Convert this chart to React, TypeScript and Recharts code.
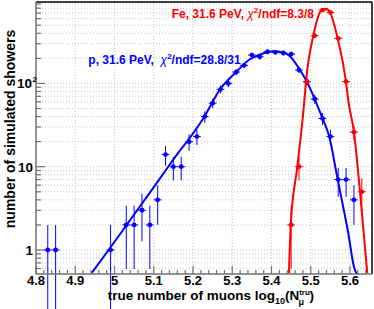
import React from "react";
import {
  ComposedChart, XAxis, YAxis, Scatter, Line, ErrorBar, ReferenceLine,
} from "recharts";

// proton histogram (bin centres, counts, poisson errors)
const pX = [4.83, 4.85, 4.99, 5.03, 5.05, 5.07, 5.09, 5.11, 5.13, 5.15, 5.17, 5.19, 5.21, 5.23, 5.25, 5.27, 5.29,
  5.31, 5.33, 5.35, 5.37, 5.39, 5.41, 5.43, 5.45, 5.47, 5.49, 5.51, 5.53, 5.55, 5.57, 5.59, 5.61];
const pN = [1, 1, 1, 2, 2, 3, 2, 4, 14, 10, 10, 20, 23, 40, 58, 85, 100,
  137, 165, 219, 209, 240, 236, 232, 225, 145, 105, 65, 38, 23, 7, 7, 4];
const pErrLo = [0.99, 0.99, 0.99, 1.41, 1.41, 1.73, 1.41, 2, 3.74, 3.16, 3.16, 4.47, 4.8, 6.32, 7.6, 9.2, 10,
  11.7, 12.8, 14.8, 14.5, 15.5, 15.4, 15.2, 15, 12, 10.2, 8.1, 6.2, 4.8, 2.65, 2.65, 2];
const pErrHi = [1, 1, 1, 1.41, 1.41, 1.73, 1.41, 2, 3.74, 3.16, 3.16, 4.47, 4.8, 6.32, 7.6, 9.2, 10,
  11.7, 12.8, 14.8, 14.5, 15.5, 15.4, 15.2, 15, 12, 10.2, 8.1, 6.2, 4.8, 2.65, 2.65, 2];

// iron histogram
const feX = [5.45, 5.47, 5.49, 5.51, 5.53, 5.55, 5.57, 5.59, 5.61, 5.63];
const feN = [2, 10, 105, 374, 760, 713, 348, 105, 26, 5];
const feErr = [1.41, 3.16, 10.2, 19.3, 27.6, 26.7, 18.7, 10.2, 5.1, 2.24];

// fitted curves
const pFitX = [4.942, 4.985, 5.031, 5.08, 5.12, 5.158, 5.188, 5.226, 5.269, 5.31, 5.345, 5.371, 5.405, 5.43,
  5.447, 5.4725, 5.49, 5.515, 5.53, 5.547, 5.5675, 5.579, 5.5955, 5.61, 5.618];
const pFitY = [0.53, 1, 2, 4.2, 7.7, 13.8, 21, 38, 85, 137, 195, 222, 243, 235,
  212, 145, 105, 57, 38, 23, 7.5, 4, 1.6, 0.63, 0.5];
const feFitX = [5.4445, 5.449, 5.4657, 5.4827, 5.4878, 5.5064, 5.5278, 5.5387, 5.549, 5.5685, 5.5897, 5.5955,
  5.61, 5.6253, 5.6439];
const feFitY = [0.53, 2, 10, 55, 105, 374, 760, 790, 713, 348, 105, 63, 26, 5.1, 0.53];

const xMajor = [4.8, 4.9, 5, 5.1, 5.2, 5.3, 5.4, 5.5, 5.6];
const yTicks = [0.6, 0.7, 0.8, 0.9, 1, 2, 3, 4, 5, 6, 7, 8, 9, 10, 20, 30, 40, 50, 60, 70, 80, 90,
  100, 200, 300, 400, 500, 600, 700, 800, 900];
const yLabels: Record<number, string> = { 1: "1", 10: "10", 100: "10" };

const X_DOMAIN: [number, number] = [4.8, 5.656];
const Y_DOMAIN: [number, number] = [0.515, 950];
const PLOT_LEFT = 36;
const PLOT_BOTTOM = 274;
const FONT = "'Liberation Sans', Arial, Helvetica, sans-serif";
const BLUE = "#0000ff";
const RED = "#ff0000";
const AXIS = "#707070";

const xTicks: number[] = [];
for (let i = 0; i <= 42; i++) xTicks.push(Math.round((4.8 + i * 0.02) * 100) / 100);

const pData = pX.map((x, i) => ({ x, y: pN[i], ey: [pErrLo[i], pErrHi[i]], ex: 0.01 }));
const feData = feX.map((x, i) => ({ x, y: feN[i], ey: feErr[i], ex: 0.01 }));
const pFit = pFitX.map((x, i) => ({ x, y: pFitY[i] }));
const feFit = feFitX.map((x, i) => ({ x, y: feFitY[i] }));

function XTick(props: any) {
  const { x, payload } = props;
  const v: number = payload.value;
  const major = Math.abs(v * 10 - Math.round(v * 10)) < 1e-6;
  return (
    <g>
      <line x1={x} x2={x} y1={PLOT_BOTTOM} y2={PLOT_BOTTOM - (major ? 8 : 4)} stroke={AXIS} strokeWidth={1.2} />
      {major && (
        <text x={x} y={284.5} textAnchor="middle" fontSize={13} fontWeight="bold" fontFamily={FONT} fill="#000">
          {String(Number(v.toFixed(1)))}
        </text>
      )}
    </g>
  );
}

function YTick(props: any) {
  const { y, payload } = props;
  const v: number = payload.value;
  const major = v === 1 || v === 10 || v === 100;
  return (
    <g>
      <line x1={PLOT_LEFT} x2={PLOT_LEFT + (major ? 9 : 5)} y1={y} y2={y} stroke={AXIS} strokeWidth={1.2} />
      {major && (
        <text x={v === 100 ? 32 : 33} y={y + 5} textAnchor="end" fontSize={13.5} fontWeight="bold" fontFamily={FONT} fill="#000">
          {yLabels[v]}
        </text>
      )}
      {v === 100 && (
        <text x={32.5} y={y - 1} fontSize={8} fontWeight="bold" fontFamily={FONT} fill="#000">2</text>
      )}
    </g>
  );
}

const dot = (color: string) => (p: any) => <circle cx={p.cx} cy={p.cy} r={2.4} fill={color} />;

export default function App() {
  return (
    <div style={{ position: "absolute", left: 0, top: 0, width: 374, height: 309, background: "#fff" }}>
      <ComposedChart width={374} height={309} margin={{ top: 2, right: 2, bottom: 0, left: 0 }}>
        <XAxis type="number" dataKey="x" domain={X_DOMAIN} allowDataOverflow ticks={xTicks} interval={0}
          tick={<XTick />} tickLine={false} axisLine={{ stroke: AXIS, strokeWidth: 1.5 }} height={35} />
        <YAxis type="number" dataKey="y" scale="log" domain={Y_DOMAIN} allowDataOverflow ticks={yTicks} interval={0}
          tick={<YTick />} tickLine={false} axisLine={{ stroke: AXIS, strokeWidth: 1.5 }} width={36} />
        {yTicks.map((t) => (
          <ReferenceLine key={"gy" + t} y={t} stroke="#c8c8c8" strokeDasharray="1 2" strokeWidth={1} />
        ))}
        {xMajor.slice(1).map((t) => (
          <ReferenceLine key={"gx" + t} x={t} stroke="#c8c8c8" strokeDasharray="1 2" strokeWidth={1} />
        ))}
        <ReferenceLine y={Y_DOMAIN[1]} stroke="#000" strokeWidth={1.5} />
        <ReferenceLine x={X_DOMAIN[1]} stroke="#000" strokeWidth={1.5} />
        <Line data={pFit} dataKey="y" type="monotone" stroke={BLUE} strokeWidth={2} dot={false} isAnimationActive={false} />
        <Line data={feFit} dataKey="y" type="monotone" stroke={RED} strokeWidth={2} dot={false} isAnimationActive={false} />
        <Scatter data={pData} dataKey="y" shape={dot(BLUE)} isAnimationActive={false}>
          <ErrorBar dataKey="ey" direction="y" width={0} stroke={BLUE} strokeWidth={1} />
          <ErrorBar dataKey="ex" direction="x" width={0} stroke={BLUE} strokeWidth={1} />
        </Scatter>
        <Scatter data={feData} dataKey="y" shape={dot(RED)} isAnimationActive={false}>
          <ErrorBar dataKey="ey" direction="y" width={0} stroke={RED} strokeWidth={1} />
          <ErrorBar dataKey="ex" direction="x" width={0} stroke={RED} strokeWidth={1} />
        </Scatter>
      </ComposedChart>
      <svg width={374} height={309} style={{ position: "absolute", left: 0, top: 0, pointerEvents: "none" }}
        fontFamily={FONT} fontWeight="bold">
        <text x={14.5} y={129} transform="rotate(-90 14.5 129)" textAnchor="middle" fontSize={14} fill="#000">
          number of simulated showers
        </text>
        <text x={107.7} y={300.3} fontSize={13.5} fill="#000">
          true number of muons log<tspan fontSize={9} dy={4}>10</tspan>
          <tspan dy={-4}>(N</tspan>
          <tspan fontSize={8} dy={-5}>tru</tspan>
          <tspan fontSize={9} dx={-11.5} dy={10}>μ</tspan>
          <tspan dx={5.5} dy={-5}>)</tspan>
        </text>
        <text x={88.3} y={63.5} fontSize={12} fill={BLUE}>
          p, 31.6 PeV,{"\u00a0\u00a0"}<tspan fontWeight="normal" fontStyle="italic">χ</tspan>
          <tspan fontSize={8} dy={-5}>2</tspan><tspan dy={5}>/ndf=28.8/31</tspan>
        </text>
        <text x={171.7} y={18.3} fontSize={12} fill={RED}>
          Fe, 31.6 PeV, <tspan fontWeight="normal" fontStyle="italic">χ</tspan>
          <tspan fontSize={8} dy={-5}>2</tspan><tspan dy={5}>/ndf=8.3/8</tspan>
        </text>
      </svg>
    </div>
  );
}
